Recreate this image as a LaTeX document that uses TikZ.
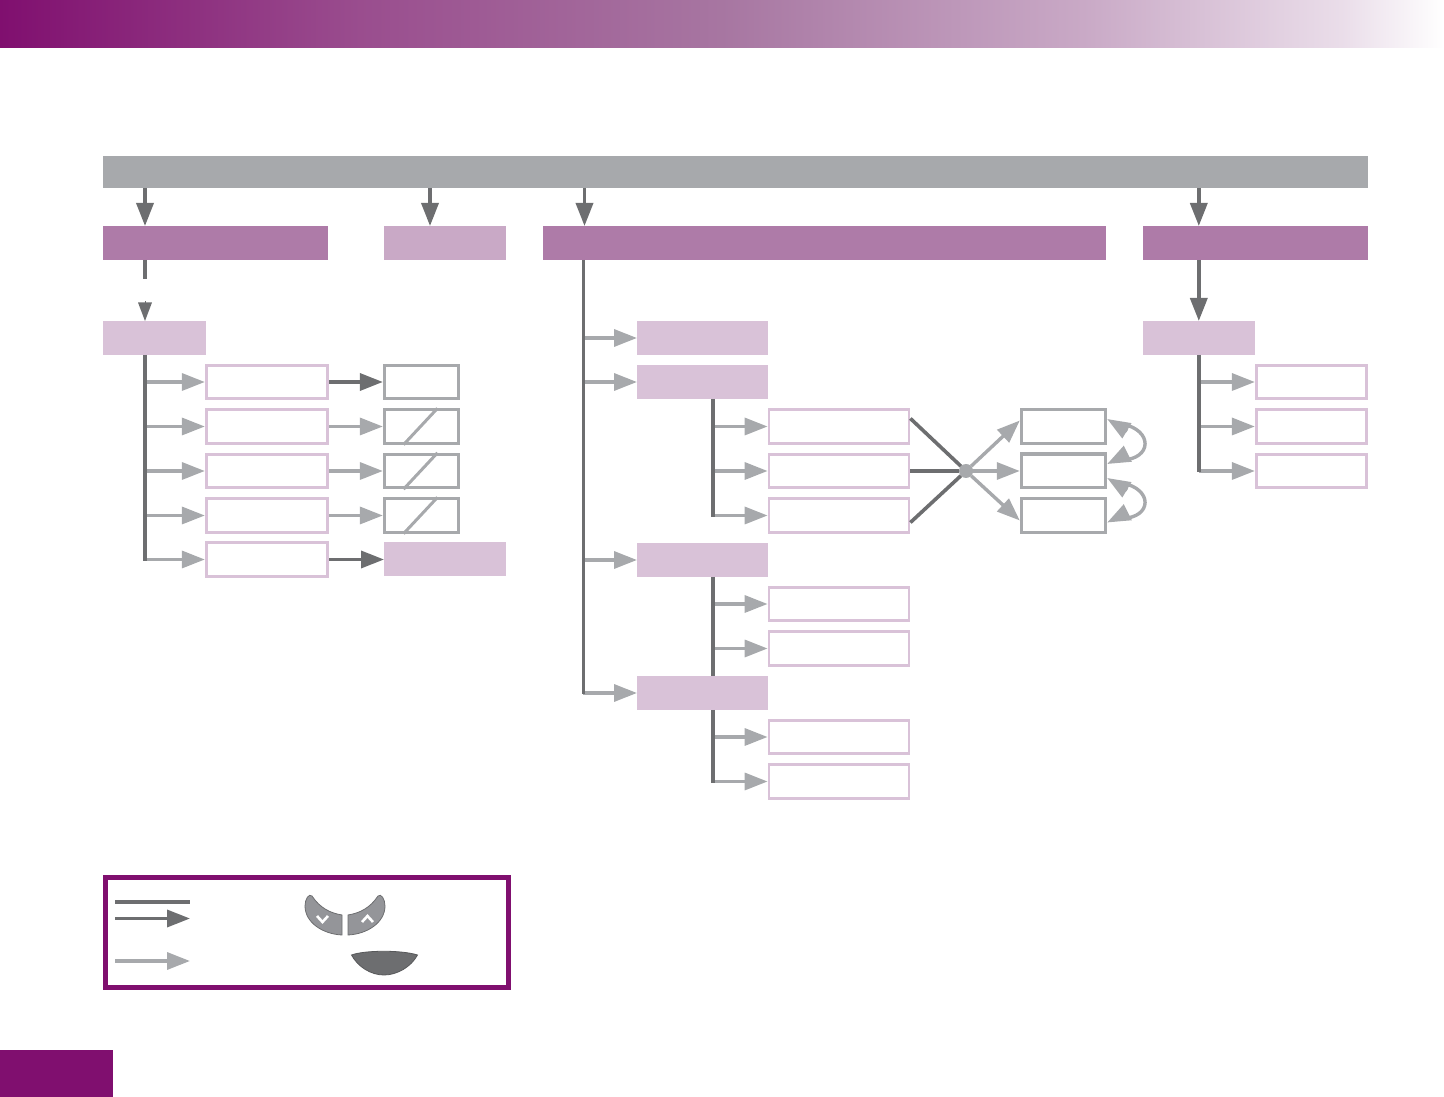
\documentclass[tikz,border=0pt]{standalone}
\usetikzlibrary{arrows.meta}

\definecolor{violett}{HTML}{800F6F}
\definecolor{lilaA}{HTML}{AE7BA8}
\definecolor{lilaB}{HTML}{C9A9C6}
\definecolor{lilaC}{HTML}{D9C2D8}
\definecolor{dunkel}{HTML}{6D6E70}
\definecolor{hell}{HTML}{A7A9AC}
\definecolor{taste}{HTML}{949599}

\pgfdeclarehorizontalshading{balken}{100bp}{
	color(0bp)=(violett); color(25bp)=(violett);
	color(37.5bp)=(violett!72!white!94!black); color(50bp)=(lilaA!96!black);
	color(62.5bp)=(lilaB); color(71.5bp)=(lilaC!55!white); color(75bp)=(white); color(100bp)=(white)}

\def\px{0.02cm}

\tikzset{
	breit/.style={minimum width=#1*\px},
	voll/.style={inner sep=0,outer sep=0,minimum height=34*\px},
	haupt/.style={voll,fill=lilaA},
	neben/.style={voll,fill=lilaB},
	unter/.style={voll,fill=lilaC},
	rosa/.style={draw=lilaC,line width=2.8*\px,inner sep=0,minimum height=33.6*\px},
	grau/.style={draw=hell,line width=2.8*\px,inner sep=0,minimum height=33.6*\px},
	stamm/.style={draw=dunkel,line width=3.6*\px},
	dpfeil/.style={draw=dunkel,line width=3.6*\px,->},
	hpfeil/.style={draw=hell,line width=3.4*\px,->,>={Triangle[length=0.46cm,width=0.34cm,color=hell]}},
	kurve/.style={draw=hell,line width=3.4*\px},
	tastenform/.style={fill=taste,draw=dunkel,line width=0.8*\px},
	chevron/.style={draw=white,line width=2.6*\px},
}

\begin{document}
\begin{tikzpicture}[x=0.02cm,y=-0.02cm,>={Triangle[length=0.46cm,width=0.34cm]}]

\def\kante#1#2{
	\draw[hpfeil] (#1 |- #2.west) -- (#2.west);
}

% Bogen mit zwei Spitzen, #1 oben und #2 unten
\def\bogen#1#2{
	\draw[kurve] ([shift={(0.3cm,-0.1cm)}]#1) .. controls +(0.62cm,-0.12cm) and ([shift={(0.9cm,0.1cm)}]#2) .. ([shift={(0.3cm,0.08cm)}]#2);
	\draw[hpfeil] ([shift={(0.4cm,-0.24cm)}]#1) -- (#1);
	\draw[hpfeil] ([shift={(0.4cm,0.2cm)}]#2) -- (#2);
}

\useasboundingbox (0,0) rectangle (1444,1097);

\shade[shading=balken] (0,0) rectangle (1444,48);
\fill[violett] (0,1050) rectangle (113,1097);

\coordinate (xa) at (145,0);
\coordinate (xb) at (430,0);
\coordinate (xc) at (583.3,0);
\coordinate (xf) at (584.5,0);
\coordinate (xd) at (713,0);
\coordinate (xe) at (1198.8,0);

% obere Reihen
\node[voll,fill=hell,breit=1265,minimum height=32*\px] (leiste) at (735.5,172) {};
\node[haupt,breit=225] (menuA) at (215.5,243) {};
\node[neben,breit=122] (menuB) at (445,243) {};
\node[haupt,breit=563] (menuC) at (824.5,243) {};
\node[haupt,breit=225] (menuD) at (1255.5,243) {};

\draw[dpfeil] (xa |- leiste.south) -- (xa |- menuA.north);
\draw[dpfeil] (xb |- leiste.south) -- (xb |- menuB.north);
\draw[dpfeil] (xf |- leiste.south) -- (xf |- menuC.north);
\draw[dpfeil] (xe |- leiste.south) -- (xe |- menuD.north);

% linke Spalte
\node[unter,breit=103] (lk) at (154.5,338) {};
\node[rosa,breit=121.5] (la) at (267,382) {};
\node[rosa,breit=121.5] (lb) at (267,426.5) {};
\node[rosa,breit=121.5] (lc) at (267,471) {};
\node[rosa,breit=121.5] (ld) at (267,515.5) {};
\node[rosa,breit=121.5] (le) at (267,559.5) {};

\node[grau,breit=74.5] (ga) at (421.5,382) {};
\node[grau,breit=74.5] (gb) at (421.5,426.5) {};
\node[grau,breit=74.5] (gc) at (421.5,471) {};
\node[grau,breit=74.5] (gd) at (421.5,515.5) {};
\node[unter,breit=122] (ge) at (445,559.5) {};

\draw[stamm] (xa |- menuA.south) -- ++(0,19);
\draw[dpfeil,line width=0pt,>={Triangle[length=0.37cm,width=0.28cm]}] (145,302) -- (xa |- lk.north);

\draw[dpfeil] (la) -- (ga);
\draw[hpfeil] (lb) -- (gb);
\draw[hpfeil] (lc) -- (gc);
\draw[hpfeil] (ld) -- (gd);
\draw[dpfeil] (le) -- (ge);

\draw[hell,line width=3*\px] ([xshift=-0.36cm]gb.south) -- ([xshift=0.32cm]gb.north);
\draw[hell,line width=3*\px] ([xshift=-0.36cm]gc.south) -- ([xshift=0.32cm]gc.north);
\draw[hell,line width=3*\px] ([xshift=-0.36cm]gd.south) -- ([xshift=0.32cm]gd.north);

\kante{xa}{la}
\kante{xa}{lb}
\kante{xa}{lc}
\kante{xa}{ld}
\kante{xa}{le}
\draw[stamm] (xa |- lk.south) -- ([yshift=-0.03cm]xa |- le.west);

% mittlere Spalte
\node[unter,breit=131] (ma) at (702.5,338) {};
\node[unter,breit=131] (mb) at (702.5,382) {};
\node[unter,breit=131] (mc) at (702.5,560) {};
\node[unter,breit=131] (md) at (702.5,693) {};

\node[rosa,breit=140] (na) at (839,426.5) {};
\node[rosa,breit=140] (nb) at (839,471) {};
\node[rosa,breit=140] (nc) at (839,515.5) {};
\node[rosa,breit=140] (nd) at (839,604) {};
\node[rosa,breit=140] (ne) at (839,648.5) {};
\node[rosa,breit=140] (nf) at (839,737) {};
\node[rosa,breit=140] (ng) at (839,781.5) {};

\kante{xc}{ma}
\kante{xc}{mb}
\kante{xc}{mc}
\kante{xc}{md}
\draw[stamm] (xc |- menuC.south) -- ([yshift=-0.03cm]xc |- md.west);

\kante{xd}{na}
\kante{xd}{nb}
\kante{xd}{nc}
\kante{xd}{nd}
\kante{xd}{ne}
\kante{xd}{nf}
\kante{xd}{ng}
\draw[stamm] (xd |- mb.south) -- ([yshift=-0.03cm]xd |- nc.west);
\draw[stamm] (xd |- mc.south) -- (xd |- md.north);
\draw[stamm] (xd |- md.south) -- ([yshift=-0.03cm]xd |- ng.west);

% Kreuzung
\node[circle,fill=hell,inner sep=0,outer sep=0,minimum size=14*\px] (knoten) at (966,471) {};
\node[grau,line width=3.4*\px,breit=84] (ra) at (1063.5,426.5) {};
\node[grau,line width=3.4*\px,breit=84] (rb) at (1063.5,471) {};
\node[grau,line width=3.4*\px,breit=84] (rc) at (1063.5,515.5) {};

\draw[dpfeil,-] ([yshift=0.16cm]na.east) -- (knoten);
\draw[dpfeil,-] (nb.east) -- (knoten.west);
\draw[dpfeil,-] ([yshift=-0.14cm]nc.east) -- (knoten);

\draw[hpfeil] (knoten) -- ([yshift=0.12cm]ra.west);
\draw[hpfeil] (knoten.center) -- (rb.west);
\draw[hpfeil] (knoten) -- ([yshift=-0.1cm]rc.west);

\coordinate (ba) at ([yshift=0.15cm]ra.east);
\coordinate (bb) at ([yshift=0.14cm]rb.east);
\coordinate (bc) at ([yshift=-0.14cm]rb.east);
\coordinate (bd) at ([yshift=-0.14cm]rc.east);
\bogen{ba}{bb}
\bogen{bc}{bd}

% rechte Spalte
\node[unter,breit=112] (sk) at (1199,338) {};
\node[rosa,breit=110.5] (sa) at (1311.5,382) {};
\node[rosa,breit=110.5] (sb) at (1311.5,426.5) {};
\node[rosa,breit=110.5] (sc) at (1311.5,471) {};

\draw[dpfeil] (xe |- menuD.south) -- (xe |- sk.north);
\kante{xe}{sa}
\kante{xe}{sb}
\kante{xe}{sc}
\draw[stamm] (xe |- sk.south) -- ([yshift=-0.03cm]xe |- sc.west);

% Legende
\draw[violett,line width=4.6*\px] (105.3,877.3) rectangle (508.5,987.7);

\draw[stamm,line width=4*\px] (115,902) -- (190,902);
\draw[dpfeil] (115,918.5) -- (190,918.5);
\draw[hpfeil] (115,961) -- (190,961);

\draw[tastenform] (312,896) .. controls (320,908) and (330,913) .. (342,915) -- (342,935)
	.. controls (322,934) and (305,922) .. (305,906) .. controls (305,899) and (309,893) .. (312,896) -- cycle;
\draw[tastenform] (378,896) .. controls (370,908) and (360,913) .. (348,915) -- (348,935)
	.. controls (368,934) and (385,922) .. (385,906) .. controls (385,899) and (381,893) .. (378,896) -- cycle;
\draw[chevron] (317,916) -- (322.5,922) -- (328,916);
\draw[chevron] (362,922) -- (367.5,916) -- (373,922);

\draw[fill=dunkel,draw=dunkel!80!black,line width=0.8*\px] (351.5,955) .. controls (365,950) and (402,950) .. (417.5,955)
	.. controls (411,967) and (397,975) .. (384,975) .. controls (371,975) and (358,967) .. (351.5,955) -- cycle;

\end{tikzpicture}
\end{document}
